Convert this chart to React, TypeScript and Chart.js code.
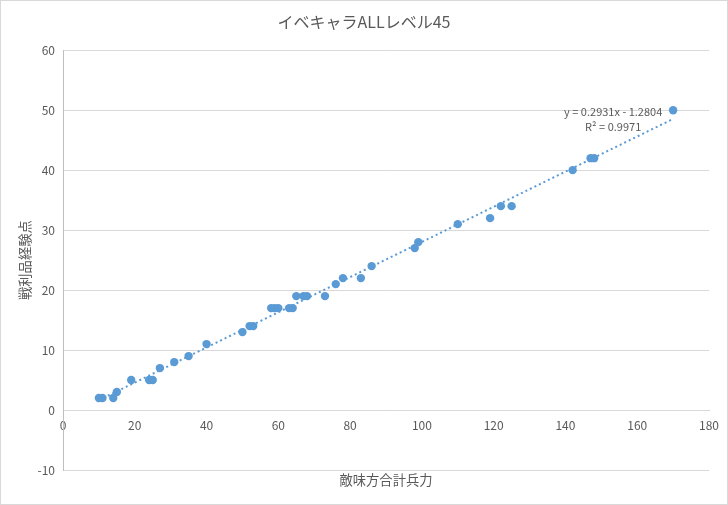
import { useEffect, useRef } from 'react';
import { Chart, registerables } from 'chart.js';

Chart.register(...registerables);

const chartTitle = 'イベキャラALLレベル45';
const xTitle = '敵味方合計兵力';
const yTitle = '戦利品経験点';

// 敵味方合計兵力
const totalForces = [
  10, 11, 14, 15, 19, 24, 25, 27, 31, 35, 40, 50, 52, 53, 58, 59, 60, 63, 64,
  65, 67, 68, 73, 76, 78, 83, 86, 98, 99, 110, 119, 122, 125, 142, 147, 148, 170,
];
// 戦利品経験点
const expPoints = [
  2, 2, 2, 3, 5, 5, 5, 7, 8, 9, 11, 13, 14, 14, 17, 17, 17, 17, 17,
  19, 19, 19, 19, 21, 22, 22, 24, 27, 28, 31, 32, 34, 34, 40, 42, 42, 50,
];

// trendline as printed on the chart
const slope = 0.2931;
const intercept = -1.2804;
const rSquared = 0.9971;

const textColor = '#595959';
const gridColor = '#d9d9d9';
const markerColor = '#5B9BD5';
const cjkFont = "'Noto Sans CJK JP', 'Noto Sans', sans-serif";

const trendLabel = {
  id: 'trendLabel',
  afterDatasetsDraw(chart: Chart) {
    const { ctx, scales } = chart;
    const x = scales.x.getPixelForValue(153.3);
    ctx.save();
    ctx.fillStyle = textColor;
    ctx.font = `11px ${cjkFont}`;
    ctx.textAlign = 'center';
    ctx.textBaseline = 'middle';
    const sign = intercept < 0 ? '-' : '+';
    ctx.fillText(
      `y = ${slope.toFixed(4)}x ${sign} ${Math.abs(intercept).toFixed(4)}`,
      x,
      scales.y.getPixelForValue(49.7)
    );
    ctx.fillText(`R² = ${rSquared.toFixed(4)}`, x, scales.y.getPixelForValue(47.3));
    ctx.restore();
  },
};

export default function App() {
  const chartRef = useRef<HTMLCanvasElement>(null);
  const chartInstance = useRef<Chart | null>(null);

  useEffect(() => {
    document.body.style.margin = '0';
    if (!chartRef.current) return;

    if (chartInstance.current) {
      chartInstance.current.destroy();
    }

    const ctx = chartRef.current.getContext('2d');
    if (!ctx) return;

    const points = totalForces.map((x, i) => ({ x, y: expPoints[i] }));
    const xMin = Math.min(...totalForces);
    const xMax = Math.max(...totalForces);
    const trend = [
      { x: xMin, y: slope * xMin + intercept },
      { x: xMax, y: slope * xMax + intercept },
    ];

    chartInstance.current = new Chart(ctx, {
      type: 'scatter',
      data: {
        datasets: [
          {
            label: yTitle,
            data: points,
            backgroundColor: markerColor,
            borderColor: markerColor,
            borderWidth: 0,
            pointRadius: 4.2,
          },
          {
            type: 'line',
            label: 'trend',
            data: trend,
            borderColor: markerColor,
            borderWidth: 2,
            borderDash: [2, 3],
            pointRadius: 0,
            fill: false,
          },
        ],
      },
      options: {
        responsive: true,
        maintainAspectRatio: false,
        animation: false,
        layout: { padding: 0 },
        plugins: {
          legend: { display: false },
          tooltip: { enabled: false },
          title: {
            display: true,
            text: chartTitle,
            color: textColor,
            font: { family: cjkFont, size: 16, weight: 'normal' },
            padding: { top: 11, bottom: 19 },
          },
        },
        scales: {
          x: {
            type: 'linear',
            position: { y: 0 },
            min: 0,
            max: 180,
            ticks: {
              stepSize: 20,
              color: textColor,
              font: { family: cjkFont, size: 12 },
              padding: 8,
            },
            grid: { display: false, drawTicks: false },
            border: { display: true, color: gridColor, width: 1 },
          },
          xTitle: {
            type: 'linear',
            position: 'bottom',
            min: 0,
            max: 180,
            ticks: { display: false },
            grid: { display: false, drawTicks: false },
            border: { display: false },
            title: {
              display: true,
              text: xTitle,
              color: textColor,
              font: { family: cjkFont, size: 13.3 },
              padding: { top: 2, bottom: 16 },
            },
          },
          y: {
            type: 'linear',
            min: -10,
            max: 60,
            ticks: {
              stepSize: 10,
              color: textColor,
              font: { family: cjkFont, size: 12 },
              padding: 8,
            },
            grid: { color: gridColor, drawTicks: false },
            border: { display: true, color: '#bfbfbf', width: 1 },
            title: {
              display: true,
              text: yTitle,
              color: textColor,
              font: { family: cjkFont, size: 13.3 },
              padding: { top: 16, bottom: 0 },
            },
            afterFit(scale) {
              scale.width = 62;
            },
          },
          // empty right-hand gutter so the title stays centred on the canvas
          yGutter: {
            type: 'linear',
            position: 'right',
            min: -10,
            max: 60,
            ticks: { display: false },
            grid: { display: false, drawTicks: false },
            border: { display: false },
            afterFit(scale) {
              scale.width = 14;
            },
          },
        },
      },
      plugins: [trendLabel],
    });

    return () => {
      if (chartInstance.current) {
        chartInstance.current.destroy();
        chartInstance.current = null;
      }
    };
  }, []);

  return (
    <div
      style={{
        position: 'relative',
        width: 728,
        height: 505,
        boxSizing: 'border-box',
        border: `1px solid ${gridColor}`,
        background: '#fff',
      }}
    >
      <canvas ref={chartRef} />
    </div>
  );
}
